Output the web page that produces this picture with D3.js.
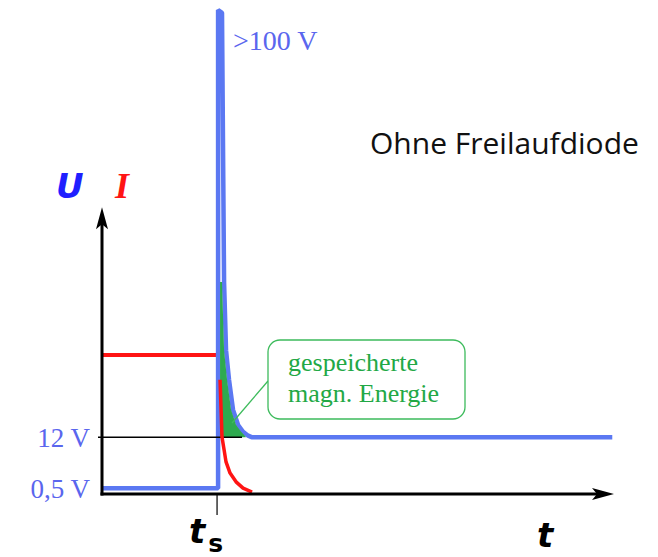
<!DOCTYPE html>
<html>
<head>
<meta charset="utf-8">
<script src="https://cdn.jsdelivr.net/npm/d3@7"></script>
<style>
  html, body { margin: 0; padding: 0; background: #ffffff; }
  svg { display: block; }
</style>
</head>
<body>
<script>
// ---------- data (time in units where t_s = 1, U/I in display units) ----------
const switchTime = 1.0;
const levelLabels = ["12 V", "0,5 V"];
const levelValues = [11.7, 1.2];
const peakLabel = ">100 V";

// Voltage U (blue)
const uTime  = [0, 1.009, 1.009, 1.043, 1.061, 1.078, 1.104, 1.139, 1.183, 1.226, 1.270, 1.300, 4.435];
const uValue = [1.2, 1.2, 99.6, 99.0, 43.6, 29.6, 23.5, 17.3, 14.2, 12.8, 12.0, 11.7, 11.7];

// Stored magnetic energy (green area above 12 V)
const eTime  = [1.026, 1.043, 1.061, 1.087, 1.122, 1.165, 1.209, 1.250];
const eValue = [43.6, 43.6, 29.6, 23.5, 17.3, 14.2, 12.8, 11.8];
const eBase  = 11.7;

// Current I (red): before switching, and decay after switching
const iHoldTime  = [0, 0.991];
const iHoldValue = [28.6, 28.6];
const iDecayTime  = [1.026, 1.035, 1.043, 1.061, 1.078, 1.113, 1.165, 1.226, 1.304];
const iDecayValue = [23.5, 17.3, 11.7, 9.1, 6.6, 4.3, 2.5, 1.2, 0.4];

const axisTopValue = 59;
const axisEndTime = 4.45;

// ---------- setup ----------
const W = 658, H = 557;
const svg = d3.select("body").append("svg").attr("width", W).attr("height", H);

const x = d3.scaleLinear().domain([0, axisEndTime]).range([102, 614]);
const y = d3.scaleLinear().domain([0, 100]).range([494, 8]);

const blue = "#5b78f2", red = "#ff1414", green = "#2eaa4f", labelBlue = "#5a66ee";

const line = d3.line().x(d => x(d[0])).y(d => y(d[1]));

// red current before switching (underneath)
svg.append("path").attr("d", line(iHoldTime.map((t, i) => [t, iHoldValue[i]])))
  .attr("fill", "none").attr("stroke", red).attr("stroke-width", 4);

// blue voltage curve
const uPts = uTime.map((t, i) => [t, uValue[i]]);
svg.append("path").attr("d", line(uPts)).attr("fill", "none")
  .attr("stroke", blue).attr("stroke-width", 4.5).attr("stroke-linejoin", "bevel");

// green energy area
const area = d3.area().x(d => x(d[0])).y0(y(eBase)).y1(d => y(d[1]));
svg.append("path").attr("d", area(eTime.map((t, i) => [t, eValue[i]])))
  .attr("fill", green);

// 12 V reference line
svg.append("line")
  .attr("x1", x(0) - 4).attr("x2", x(1.217))
  .attr("y1", y(levelValues[0])).attr("y2", y(levelValues[0]))
  .attr("stroke", "#000").attr("stroke-width", 1.5);

// red current decay
svg.append("path").attr("d", line(iDecayTime.map((t, i) => [t, iDecayValue[i]])))
  .attr("fill", "none").attr("stroke", red).attr("stroke-width", 3.5)
  .attr("stroke-linejoin", "round");

// axes
svg.append("line").attr("x1", x(0)).attr("x2", x(0))
  .attr("y1", y(0) + 1.5).attr("y2", y(axisTopValue) + 14)
  .attr("stroke", "#000").attr("stroke-width", 3);
svg.append("path")
  .attr("d", `M${x(0)},${y(axisTopValue)} L${x(0) + 6},${y(axisTopValue) + 22} L${x(0)},${y(axisTopValue) + 17} L${x(0) - 6},${y(axisTopValue) + 22} Z`)
  .attr("fill", "#000");

svg.append("line").attr("x1", x(0) - 1.5).attr("x2", x(axisEndTime) - 14)
  .attr("y1", y(0)).attr("y2", y(0))
  .attr("stroke", "#000").attr("stroke-width", 3);
svg.append("path")
  .attr("d", `M${x(axisEndTime)},${y(0)} L${x(axisEndTime) - 22},${y(0) - 6} L${x(axisEndTime) - 17},${y(0)} L${x(axisEndTime) - 22},${y(0) + 6} Z`)
  .attr("fill", "#000");

// t_s tick
svg.append("line").attr("x1", x(switchTime)).attr("x2", x(switchTime))
  .attr("y1", y(0)).attr("y2", y(0) + 21)
  .attr("stroke", "#000").attr("stroke-width", 1.2);

// level labels
const serif = "'Liberation Serif', 'Times New Roman', serif";
svg.selectAll("text.level").data(levelLabels).enter().append("text")
  .attr("class", "level")
  .attr("x", 90).attr("y", (d, i) => y(levelValues[i]) + 10)
  .attr("text-anchor", "end")
  .attr("font-family", serif).attr("font-size", 27)
  .attr("fill", labelBlue).text(d => d);

svg.append("text").attr("x", 233).attr("y", 50)
  .attr("font-family", serif).attr("font-size", 28)
  .attr("fill", labelBlue).text(peakLabel);

// axis titles
svg.append("text").attr("x", 56).attr("y", 198)
  .attr("font-family", "'DejaVu Sans', sans-serif").attr("font-weight", "bold").attr("font-style", "italic")
  .attr("font-size", 34).attr("fill", "#1f1fff").text("U");
svg.append("text").attr("x", 115).attr("y", 198)
  .attr("font-family", serif).attr("font-weight", "bold").attr("font-style", "italic")
  .attr("font-size", 36).attr("fill", red).text("I");

const tFont = "'DejaVu Sans', sans-serif";
const ts = svg.append("text").attr("x", 189).attr("y", 543)
  .attr("font-family", tFont).attr("font-weight", "bold").attr("font-style", "italic")
  .attr("font-size", 34).attr("fill", "#000");
ts.append("tspan").text("t");
ts.append("tspan").attr("dy", 9).attr("dx", 3).attr("font-size", 25).attr("font-style", "normal").text("s");

svg.append("text").attr("x", 537).attr("y", 547)
  .attr("font-family", tFont).attr("font-weight", "bold").attr("font-style", "italic")
  .attr("font-size", 34).attr("fill", "#000").text("t");

// title
svg.append("text").attr("x", 370).attr("y", 154)
  .attr("font-family", "'Open Sans', 'Noto Sans', sans-serif")
  .attr("font-size", 30).attr("fill", "#111").text("Ohne Freilaufdiode");

// callout
svg.append("line")
  .attr("x1", x(1.13)).attr("y1", y(14.6))
  .attr("x2", 268).attr("y2", 381)
  .attr("stroke", "#3dbb5c").attr("stroke-width", 1.3);
svg.append("rect").attr("x", 268).attr("y", 340).attr("width", 197).attr("height", 79)
  .attr("rx", 12).attr("ry", 12)
  .attr("fill", "#fff").attr("stroke", "#3dbb5c").attr("stroke-width", 1.3);
svg.append("text").attr("x", 288).attr("y", 371)
  .attr("font-family", serif).attr("font-size", 26).attr("fill", "#22a845").text("gespeicherte");
svg.append("text").attr("x", 288).attr("y", 402)
  .attr("font-family", serif).attr("font-size", 26).attr("fill", "#22a845").text("magn. Energie");
</script>
</body>
</html>
